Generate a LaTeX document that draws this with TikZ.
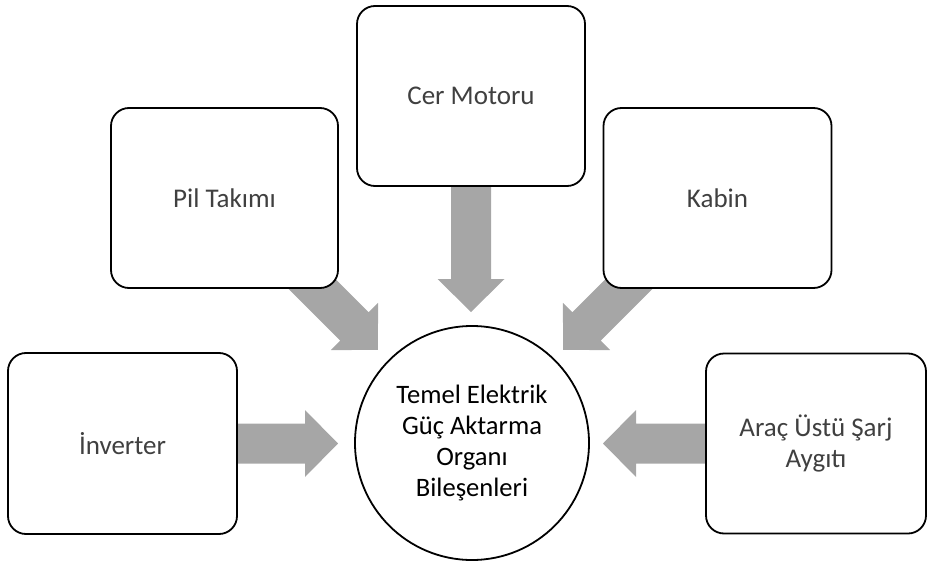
\documentclass[tikz,border=0pt]{standalone}
\usepackage{fontspec}
\setmainfont{Carlito}
\usetikzlibrary{calc}
\definecolor{arrowgray}{RGB}{166,166,166}
\definecolor{boxtext}{RGB}{64,64,64}
\pgfdeclarelayer{background}
\pgfsetlayers{background,main}
\tikzset{
  partbox/.style={draw=black, line width=1.8pt, fill=white, rounded corners=18pt,
    align=center, text=boxtext, font=\fontsize{27}{31}\selectfont, inner sep=0pt},
  hubcircle/.style={draw=black, line width=1.8pt, fill=white, circle, minimum size=234pt,
    align=center, text=black, font=\fontsize{26.6}{31}\selectfont, inner sep=0pt},
}
\newcommand{\fatarrow}[2]{%
  \coordinate (fa-b) at ($(#2)!33pt!(#1)$);
  \fill[arrowgray] ($(#1)!20pt!90:(#2)$) -- ($(fa-b)!20pt!90:(#2)$) -- ($(fa-b)!33.5pt!90:(#2)$)
    -- (#2) -- ($(fa-b)!33.5pt!-90:(#2)$) -- ($(fa-b)!20pt!-90:(#2)$) -- ($(#1)!20pt!-90:(#2)$) -- cycle;
}
\begin{document}
\begin{tikzpicture}[x=1pt,y=-1pt]
\useasboundingbox (0,0) rectangle (927,562);
\node[partbox, minimum width=228pt, minimum height=180pt] (cer) at (471,96) {Cer Motoru};
\node[partbox, minimum width=227pt, minimum height=180pt] (pil) at (224.5,198) {Pil Takımı};
\node[partbox, minimum width=228pt, minimum height=180pt] (kabin) at (717.5,198) {Kabin};
\node[partbox, minimum width=229pt, minimum height=181pt] (inv) at (122.5,443.5) {İnverter};
\node[partbox, minimum width=220pt, minimum height=180pt] (sarj) at (816,443.5) {Araç Üstü Şarj\\Aygıtı};
\node[hubcircle] (hub) at (472,443) {Temel Elektrik\\Güç Aktarma\\Organı\\Bileşenleri};
% arrow end points
\coordinate (cer-s) at ($(cer.south)+(0,-8)$);
\coordinate (cer-t) at (471,312);
\coordinate (pil-s) at (294.5,266.5);
\coordinate (pil-t) at (377.8,349.8);
\coordinate (kab-s) at (646.5,266.5);
\coordinate (kab-t) at (563.2,349.8);
\coordinate (inv-s) at ($(inv.east)+(-8,0)$);
\coordinate (inv-t) at (338,443.5);
\coordinate (sarj-s) at ($(sarj.west)+(8,0)$);
\coordinate (sarj-t) at (603,443.5);
\begin{pgfonlayer}{background}
\fatarrow{cer-s}{cer-t}
\fatarrow{pil-s}{pil-t}
\fatarrow{kab-s}{kab-t}
\fatarrow{inv-s}{inv-t}
\fatarrow{sarj-s}{sarj-t}
\end{pgfonlayer}
\end{tikzpicture}
\end{document}
